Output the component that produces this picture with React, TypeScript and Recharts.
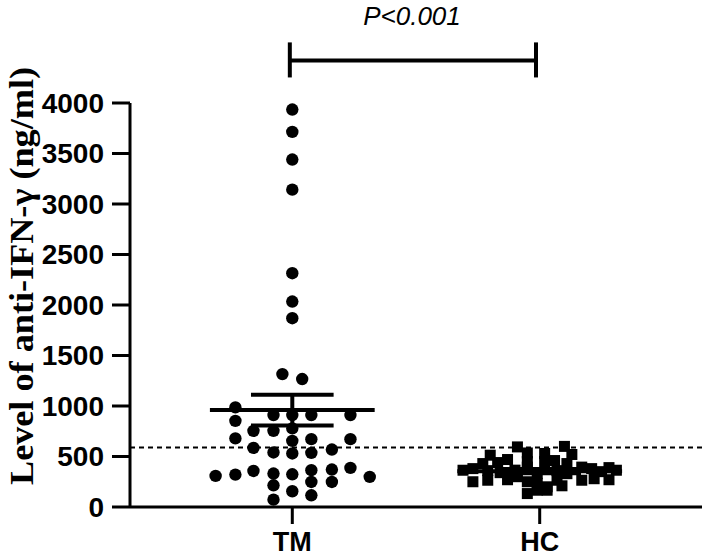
import React from 'react';
import { ScatterChart, Scatter, XAxis, YAxis, ReferenceLine, Label } from 'recharts';

const categories = ['TM', 'HC'];
const yTicks = [0, 500, 1000, 1500, 2000, 2500, 3000, 3500, 4000];

// TM group: x offset from category centre (axis units), value (ng/ml)
const tmOffset = [
  0, 0, 0, 0, 0, 0, 0,
  -0.04, 0.04,
  -0.23, -0.23, -0.076, 0, 0.077, 0.235,
  -0.157, -0.076, 0,
  -0.23, 0.235, 0, 0.077,
  -0.157, 0.16,
  -0.076, 0, 0.077,
  -0.31, -0.23, -0.157, -0.076, 0, 0.077, 0.16, 0.235, 0.313,
  -0.076, 0.077, 0.16,
  0, 0.077,
  -0.076,
];
const tmValue = [
  3935, 3714, 3440, 3142, 2315, 2034, 1869,
  1316, 1267,
  986, 853, 910, 910, 910, 910,
  754, 754, 778,
  679, 672, 655, 672,
  585, 569,
  540, 530, 536,
  308, 321, 357, 331, 324, 364, 371, 387, 298,
  215, 248, 248,
  156, 116,
  73,
];

// HC group
const hcOffset = [
  -0.09, -0.05, 0.10, 0.13, -0.20, -0.23, -0.17, 0.02, 0.02, 0.06,
  -0.31, -0.27, 0.31, 0.28, 0.25, 0.21, 0.17,
  -0.27, -0.21, -0.13, -0.05, -0.01, 0.03, 0.07, 0.17, 0.22, 0.28,
  -0.05, -0.01, 0.03,
  -0.21, -0.16, -0.10, -0.05, -0.01, 0.07, 0.11,
  -0.13, -0.05, 0.11, -0.09, 0.09,
];
const hcValue = [
  595, 535, 600, 520, 513, 430, 440, 530, 450, 460,
  364, 380, 364, 390, 350, 380, 395,
  250, 265, 270, 250, 235, 200, 265, 265, 280, 270,
  133, 166, 166,
  360, 340, 365, 395, 330, 360, 330,
  470, 450, 430, 300, 210,
];

const groupMean = [960, 355];
const groupSem = [152, 22];
const cutoff = 590;
const bracketX = [0.99, 1.985];
const bracketY = [4422, 4253, 4600];
const pText = 'P<0.001';

const tmData = tmOffset.map((o, i) => ({ x: 1 + o, y: tmValue[i] }));
const hcData = hcOffset.map((o, i) => ({ x: 2 + o, y: hcValue[i] }));

const MEAN_HALF = 0.333;
const CAP_HALF = 0.167;

const sans = 'Arial, "Liberation Sans", sans-serif';

const CircleShape = (p: any) => <circle cx={p.cx} cy={p.cy} r={6.2} fill="#000" />;
const SquareShape = (p: any) => <rect x={p.cx - 5.5} y={p.cy - 5.5} width={11} height={11} fill="#000" />;

export default function App() {
  const errLines: any[] = [];
  groupMean.forEach((m, i) => {
    const c = i + 1;
    const s = groupSem[i];
    errLines.push(
      <ReferenceLine key={`m${i}`} segment={[{ x: c - MEAN_HALF, y: m }, { x: c + MEAN_HALF, y: m }]} stroke="#000" strokeWidth={4} ifOverflow="visible" />,
      <ReferenceLine key={`v${i}`} segment={[{ x: c, y: m - s }, { x: c, y: m + s }]} stroke="#000" strokeWidth={4} ifOverflow="visible" />,
      <ReferenceLine key={`t${i}`} segment={[{ x: c - CAP_HALF, y: m + s }, { x: c + CAP_HALF, y: m + s }]} stroke="#000" strokeWidth={4} ifOverflow="visible" />,
      <ReferenceLine key={`b${i}`} segment={[{ x: c - CAP_HALF, y: m - s }, { x: c + CAP_HALF, y: m - s }]} stroke="#000" strokeWidth={4} ifOverflow="visible" />,
    );
  });

  return (
    <div style={{ position: 'absolute', left: 0, top: 0, width: 709, height: 556, background: '#fff' }}>
      <ScatterChart width={709} height={556} margin={{ top: 103, right: 7, bottom: 10, left: 0 }}>
        <XAxis
          type="number"
          dataKey="x"
          domain={[0.344, 2.656]}
          ticks={[1, 2]}
          tickFormatter={(v: number) => categories[v - 1]}
          allowDataOverflow
          height={39}
          tickSize={17}
          tickMargin={8}
          axisLine={{ stroke: '#000', strokeWidth: 3 }}
          tickLine={{ stroke: '#000', strokeWidth: 3 }}
          tick={{ fill: '#000', fontSize: 27, fontWeight: 'bold', fontFamily: sans }}
        />
        <YAxis
          type="number"
          dataKey="y"
          domain={[0, 4000]}
          ticks={yTicks}
          allowDataOverflow
          width={130}
          tickSize={18}
          tickMargin={8}
          axisLine={{ stroke: '#000', strokeWidth: 3 }}
          tickLine={{ stroke: '#000', strokeWidth: 3 }}
          tick={{ fill: '#000', fontSize: 28, fontWeight: 'bold', fontFamily: sans }}
        >
          <Label
            content={() => (
              <text
                transform="translate(33,276) rotate(-90)"
                textAnchor="middle"
                fontFamily='"Times New Roman", "Liberation Serif", serif'
                fontWeight="bold"
                fontSize={34}
                textLength={418}
                lengthAdjust="spacingAndGlyphs"
                fill="#000"
              >
                Level of anti-IFN-γ (ng/ml)
              </text>
            )}
          />
        </YAxis>
        <ReferenceLine y={cutoff} stroke="#000" strokeWidth={2} strokeDasharray="5 4" />
        <Scatter data={tmData} shape={CircleShape} isAnimationActive={false} />
        <Scatter data={hcData} shape={SquareShape} isAnimationActive={false} />
        {errLines}
        <ReferenceLine
          segment={[{ x: bracketX[0], y: bracketY[0] }, { x: bracketX[1], y: bracketY[0] }]}
          stroke="#000"
          strokeWidth={4}
          ifOverflow="visible"
        />
        <ReferenceLine
          segment={[{ x: bracketX[0], y: bracketY[1] }, { x: bracketX[0], y: bracketY[2] }]}
          stroke="#000"
          strokeWidth={4}
          ifOverflow="visible"
        />
        <ReferenceLine
          segment={[{ x: bracketX[1], y: bracketY[1] }, { x: bracketX[1], y: bracketY[2] }]}
          stroke="#000"
          strokeWidth={4}
          ifOverflow="visible"
        />
      </ScatterChart>
      <div
        style={{
          position: 'absolute',
          left: 312,
          width: 200,
          top: 2,
          textAlign: 'center',
          fontFamily: sans,
          fontStyle: 'italic',
          fontSize: 26,
          color: '#000',
          lineHeight: '28px',
        }}
      >
        {pText}
      </div>
    </div>
  );
}
